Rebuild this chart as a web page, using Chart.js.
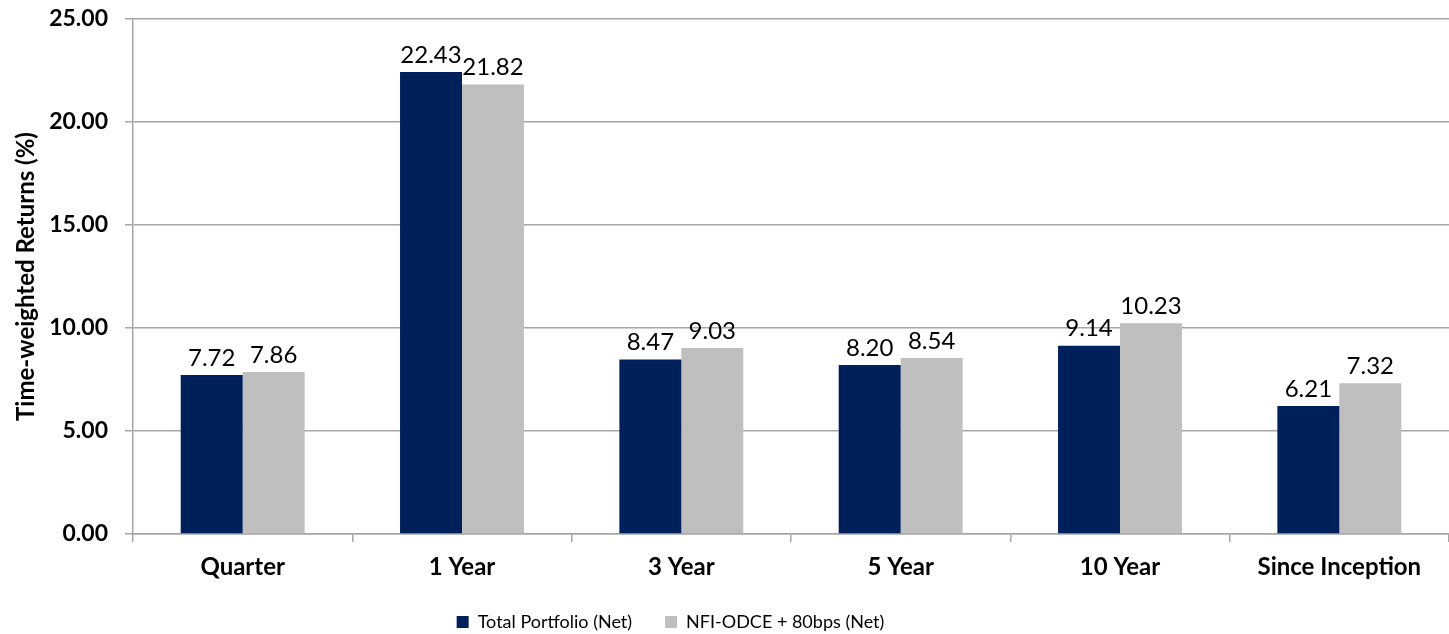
<!DOCTYPE html>
<html>
<head>
<meta charset="utf-8">
<script src="https://cdn.jsdelivr.net/npm/chart.js@4"></script>
<style>
    html, body { margin: 0; padding: 0; background: #fff; }
    .wrap { width: 1449px; height: 634px; position: relative; }
</style>
</head>
<body>
<div class="wrap"><canvas id="returns-chart"></canvas></div>
<script>
const CATEGORIES = ['Quarter', '1 Year', '3 Year', '5 Year', '10 Year', 'Since Inception'];
const PORTFOLIO = [7.72, 22.43, 8.47, 8.20, 9.14, 6.21];
const BENCHMARK = [7.86, 21.82, 9.03, 8.54, 10.23, 7.32];
const SERIES_NAMES = ['Total Portfolio (Net)', 'NFI-ODCE + 80bps (Net)'];
const Y_TICKS = [0, 5, 10, 15, 20, 25];

const FONT = 'Lato, "Open Sans", sans-serif';
const AXIS_GRAY = '#a6a6a6';

// Draws value labels above each bar
const valueLabels = {
    id: 'valueLabels',
    afterDatasetsDraw(chart) {
        const ctx = chart.ctx;
        ctx.save();
        ctx.font = '24px ' + FONT;
        ctx.fillStyle = '#000';
        ctx.textAlign = 'center';
        ctx.textBaseline = 'bottom';
        chart.data.datasets.forEach((ds, i) => {
            chart.getDatasetMeta(i).data.forEach((bar, j) => {
                ctx.fillText(ds.data[j].toFixed(2), bar.x, bar.y - 5);
            });
        });
        ctx.restore();
    }
};

// Excel put the legend a bit left of centre
const legendShift = {
    id: 'legendShift',
    afterLayout(chart) {
        if (!chart.legend) return;
        chart.legend.left -= 60;
        chart.legend.right -= 60;
    }
};

new Chart(document.getElementById('returns-chart'), {
    type: 'bar',
    data: {
        labels: CATEGORIES,
        datasets: [
            { label: SERIES_NAMES[0], data: PORTFOLIO, backgroundColor: '#00205c' },
            { label: SERIES_NAMES[1], data: BENCHMARK, backgroundColor: '#bfbfbf' },
        ]
    },
    options: {
        responsive: true,
        maintainAspectRatio: false,
        animation: false,
        categoryPercentage: 0.565,
        barPercentage: 1,
        layout: { padding: { top: 19, right: 0, left: 12, bottom: -7 } },
        plugins: {
            legend: {
                position: 'bottom',
                labels: {
                    boxWidth: 12,
                    boxHeight: 12,
                    padding: 33,
                    color: '#000',
                    font: { family: FONT, size: 18 },
                }
            },
            tooltip: { enabled: false },
        },
        scales: {
            y: {
                min: 0,
                max: 25,
                afterBuildTicks: axis => { axis.ticks = Y_TICKS.map(v => ({ value: v })); },
                afterFit: axis => {
                    axis.width = 121;
                    axis.paddingTop = 0;
                    axis.paddingBottom = 0;
                },
                grid: { color: AXIS_GRAY, lineWidth: 1.5, tickLength: 8 },
                border: { color: AXIS_GRAY, width: 1.5 },
                ticks: {
                    callback: v => v.toFixed(2),
                    color: '#000',
                    padding: 17,
                    font: { family: FONT, size: 23, weight: 'bold' },
                },
                title: {
                    display: true,
                    text: 'Time-weighted Returns (%)',
                    color: '#000',
                    font: { family: FONT, size: 24, weight: 'bold' },
                    padding: 0,
                }
            },
            x: {
                afterFit: axis => { axis.height = 46; },
                grid: { color: AXIS_GRAY, lineWidth: 1.5, drawOnChartArea: false, tickLength: 8 },
                border: { color: AXIS_GRAY, width: 1.5 },
                ticks: {
                    color: '#000',
                    padding: 11,
                    font: { family: FONT, size: 24, weight: 'bold' },
                }
            }
        }
    },
    plugins: [valueLabels, legendShift]
});
</script>
</body>
</html>
